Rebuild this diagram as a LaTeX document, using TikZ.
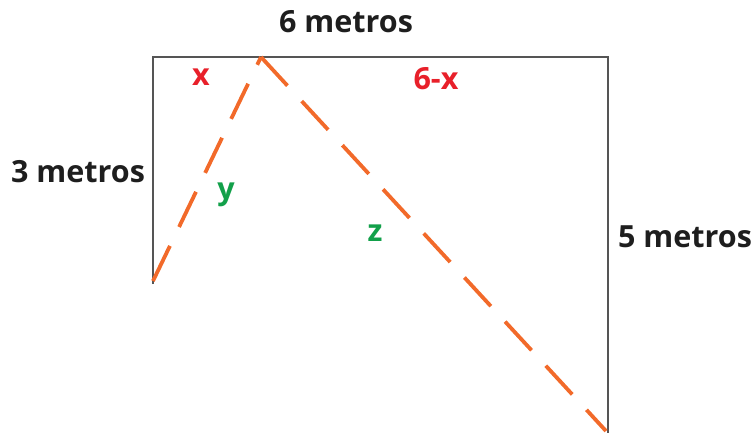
\documentclass[tikz,border=0pt]{standalone}
\usepackage{fontspec}
\setmainfont{Open Sans}
\usetikzlibrary{positioning,calc}
\definecolor{wall}{HTML}{555555}
\definecolor{text}{HTML}{1E1E1E}
\definecolor{accentorange}{HTML}{F26A2A}
\definecolor{accentred}{HTML}{E8202A}
\definecolor{accentgreen}{HTML}{12A04A}

\begin{document}
\begin{tikzpicture}[x=1pt, y=-1pt,
      side/.style={draw=wall, line width=1.1pt},
      rope/.style={draw=accentorange, line width=3.8pt, dash pattern=on 39pt off 21pt},
      measure/.style={font=\fontsize{30.5}{33}\selectfont\bfseries, color=text, inner sep=0pt},
      part/.style={font=\fontsize{30.5}{33}\selectfont\bfseries, inner sep=0pt}
    ]
      \useasboundingbox (0,0) rectangle (753,434);

      % frame corners
      \coordinate (tl) at (153,57);
      \coordinate (tr) at (608,57);
      \coordinate (bl) at (153,284);
      \coordinate (br) at (608,433);
      \coordinate (apex) at (261,57);
      \coordinate (ropeL) at (153,281);
      \coordinate (ropeR) at (606,431);

      \draw[side] (bl) -- (tl) -- (tr) -- (br);

      \draw[rope] (ropeL) -- (apex);
      \draw[rope] (apex) -- (ropeR);

      % measures
      \node[measure] (top) at (346,22) {6 metros};
      \node[measure] (left) at (78,172) {3 metros};
      \node[measure] (right) at (685,237) {5 metros};

      \node[part, color=accentred] (px) at (201,77) {x};
      \node[part, color=accentred] (prest) at (436,79) {6-x};
      \node[part, color=accentgreen] (py) at (226,195) {y};
      \node[part, color=accentgreen] (pz) at (375,233) {z};
    \end{tikzpicture}
\end{document}
